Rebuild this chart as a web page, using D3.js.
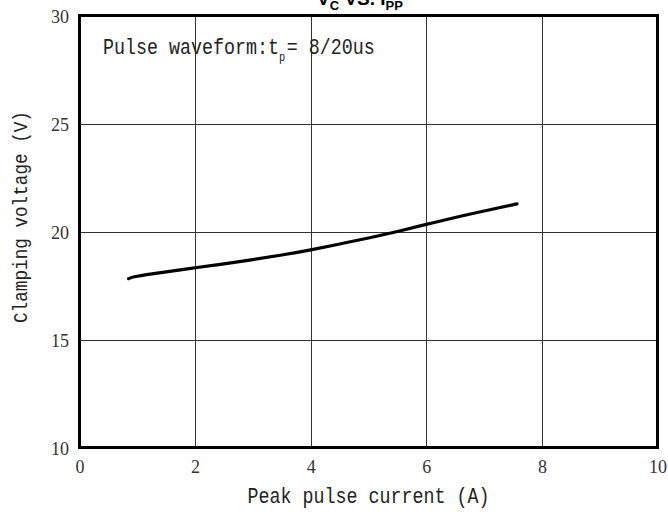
<!DOCTYPE html>
<html><head><meta charset="utf-8">
<script src="https://cdn.jsdelivr.net/npm/d3@7"></script>
<style>body{margin:0;background:#fff}svg{display:block}</style></head>
<body><svg id="c" width="668" height="512"></svg>
<script>
const xTicks = [0, 2, 4, 6, 8, 10];
const yTicks = [10, 15, 20, 25, 30];
const currentA = [0.85, 1.0, 1.5, 2.0, 2.5, 3.0, 3.5, 4.0, 4.5, 5.0, 5.5, 6.0, 6.5, 7.0, 7.57];
const voltageV = [17.82, 17.93, 18.13, 18.32, 18.5, 18.7, 18.91, 19.15, 19.42, 19.7, 20.0, 20.33, 20.65, 20.95, 21.28];
const xLabel = "Peak pulse current (A)";
const yLabel = "Clamping voltage (V)";

const svg = d3.select("#c");
const L = 79.5, R = 657.5, T = 15.5, B = 447.5;
const x = d3.scaleLinear().domain([0, 10]).range([L, R]);
const y = d3.scaleLinear().domain([10, 30]).range([B, T]);

// grid
svg.append("g").selectAll("line").data(xTicks.slice(1, -1)).join("line")
  .attr("x1", d => Math.round(x(d)) + 0.5).attr("x2", d => Math.round(x(d)) + 0.5)
  .attr("y1", T).attr("y2", B).attr("stroke", "#333").attr("stroke-width", 1);
svg.append("g").selectAll("line").data(yTicks.slice(1, -1)).join("line")
  .attr("y1", d => Math.round(y(d)) + 0.5).attr("y2", d => Math.round(y(d)) + 0.5)
  .attr("x1", L).attr("x2", R).attr("stroke", "#333").attr("stroke-width", 1);

// axes tick labels via d3 axes
const xAxis = svg.append("g").attr("transform", `translate(0,${B})`)
  .call(d3.axisBottom(x).tickValues(xTicks).tickSize(0).tickPadding(0).tickFormat(d3.format("d")));
xAxis.select(".domain").remove();
xAxis.selectAll("text").attr("dy", null).attr("y", 25.5)
  .attr("font-family", "'Liberation Serif', serif").attr("font-size", 18).attr("fill", "#333");

const yAxis = svg.append("g").attr("transform", `translate(${L},0)`)
  .call(d3.axisLeft(y).tickValues(yTicks).tickSize(0).tickPadding(0).tickFormat(d3.format("d")));
yAxis.select(".domain").remove();
yAxis.selectAll("text").attr("dy", null).attr("x", -10.5).attr("y", 7)
  .attr("font-family", "'Liberation Serif', serif").attr("font-size", 18).attr("fill", "#333");

// frame
svg.append("rect").attr("x", L).attr("y", T).attr("width", R - L).attr("height", B - T)
  .attr("fill", "none").attr("stroke", "#000").attr("stroke-width", 3);

// curve
const pts = currentA.map((d, i) => [d, voltageV[i]]);
svg.append("path").datum(pts)
  .attr("d", d3.line().x(d => x(d[0])).y(d => y(d[1])).curve(d3.curveNatural))
  .attr("fill", "none").attr("stroke", "#000").attr("stroke-width", 3.2).attr("stroke-linecap", "round");

const mono = "'Liberation Mono', monospace";
const sx = 11 / (23 * 0.6);
// annotation
const ann = svg.append("text").attr("transform", `translate(103,54) scale(${sx},1)`)
  .attr("font-family", mono).attr("font-size", 23).attr("fill", "#222");
ann.append("tspan").text("Pulse waveform:t");
ann.append("tspan").attr("font-size", 13).attr("dy", 7).text("p");
ann.append("tspan").attr("dy", -7).attr("dx", 2).text("= 8/20us");

// x label
svg.append("text").attr("transform", `translate(${(L + R) / 2},503) scale(${sx},1)`)
  .attr("text-anchor", "middle").attr("font-family", mono).attr("font-size", 23).attr("fill", "#222")
  .text(xLabel);

// y label
const sy = 10.6 / (21 * 0.6);
svg.append("text").attr("transform", `translate(27,217) rotate(-90) scale(${sy},1)`)
  .attr("text-anchor", "middle").attr("font-family", mono).attr("font-size", 21).attr("fill", "#222")
  .text(yLabel);

// title
const title = svg.append("text").attr("x", 360).attr("y", 5).attr("text-anchor", "middle")
  .attr("font-family", "'Liberation Sans', Arial, sans-serif").attr("font-weight", "bold").attr("font-size", 19);
title.append("tspan").text("V");
title.append("tspan").attr("font-size", 13).attr("dy", 5).text("C");
title.append("tspan").attr("dy", -5).text(" VS. I");
title.append("tspan").attr("font-size", 13).attr("dy", 5).text("PP");
</script></body></html>
